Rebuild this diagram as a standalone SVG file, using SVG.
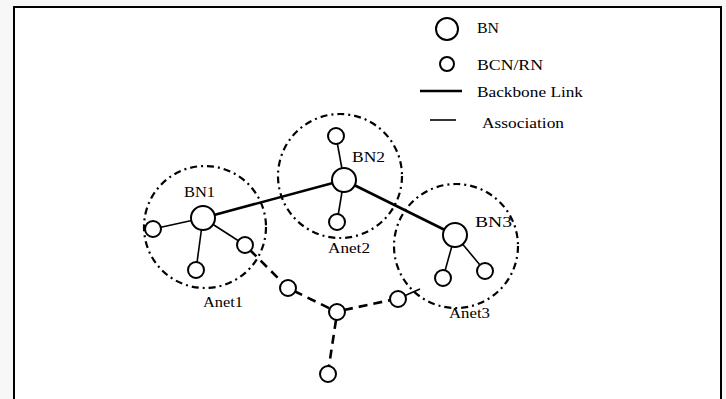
<svg xmlns="http://www.w3.org/2000/svg" width="726" height="399" viewBox="0 0 726 399">
<style>
.t{font-family:"Liberation Serif","Times New Roman",serif;fill:#000}
.lg{font-size:14px}
.lb{font-size:15px}
.node{fill:#fff;stroke:#000;stroke-width:2}
.net{fill:none;stroke:#000;stroke-width:2.2;stroke-dasharray:7 4 2 4}
.bb{stroke:#000;stroke-width:2.6;fill:none}
.as{stroke:#000;stroke-width:1.6;fill:none}
.dash{stroke:#000;stroke-width:2.6;fill:none;stroke-dasharray:9 6}
</style>
<rect x="0" y="0" width="726" height="399" fill="#f7f7f7"/>
<rect x="14" y="7" width="707" height="400" fill="#fff" stroke="#000" stroke-width="2"/>

<g id="legend">
  <circle class="node" cx="447" cy="29" r="11"/>
  <text class="t lg" x="477" y="33" textLength="22" lengthAdjust="spacingAndGlyphs">BN</text>
  <circle class="node" cx="447" cy="64" r="7"/>
  <text class="t lg" x="477" y="70" textLength="66" lengthAdjust="spacingAndGlyphs">BCN/RN</text>
  <line class="bb" x1="420" y1="91" x2="462" y2="91"/>
  <text class="t lg" x="477" y="97" textLength="106" lengthAdjust="spacingAndGlyphs">Backbone Link</text>
  <line class="as" x1="430" y1="120" x2="456" y2="120" stroke-width="1.2"/>
  <text class="t lg" x="482" y="128" textLength="82" lengthAdjust="spacingAndGlyphs">Association</text>
</g>

<g id="anet1">
  <circle class="net" cx="205" cy="227" r="61"/>
  <text class="t lb" x="203" y="307" textLength="40" lengthAdjust="spacingAndGlyphs">Anet1</text>
</g>
<g id="anet2">
  <circle class="net" cx="340" cy="176" r="62"/>
  <text class="t lb" x="328" y="253" textLength="42" lengthAdjust="spacingAndGlyphs">Anet2</text>
</g>
<g id="anet3">
  <circle class="net" cx="456" cy="246" r="62"/>
  <text class="t lb" x="449" y="318" textLength="41" lengthAdjust="spacingAndGlyphs">Anet3</text>
</g>

<g id="connectors">
  <line class="bb" x1="203" y1="218" x2="344" y2="180"/>
  <line class="bb" x1="344" y1="180" x2="455" y2="235"/>
  <line class="as" x1="203" y1="218" x2="153" y2="229"/>
  <line class="as" x1="203" y1="218" x2="196" y2="270"/>
  <line class="as" x1="203" y1="218" x2="245" y2="245"/>
  <line class="as" x1="344" y1="180" x2="336" y2="136"/>
  <line class="as" x1="344" y1="180" x2="337" y2="222"/>
  <line class="as" x1="455" y1="235" x2="443" y2="278"/>
  <line class="as" x1="455" y1="235" x2="485" y2="271"/>
  <line class="dash" x1="250" y1="250" x2="283" y2="283"/>
  <line class="dash" x1="294" y1="291" x2="331" y2="309"/>
  <line class="dash" x1="344" y1="310" x2="391" y2="300"/>
  <line class="as" x1="404" y1="296" x2="420" y2="289" stroke-width="2.2"/>
  <line class="dash" x1="336" y1="320" x2="329" y2="366"/>
</g>

<g id="BN1">
  <circle class="node" cx="203" cy="218" r="12"/>
  <text class="t lb" x="184" y="197" textLength="31" lengthAdjust="spacingAndGlyphs">BN1</text>
</g>
<g id="BN2">
  <circle class="node" cx="344" cy="180" r="12"/>
  <text class="t lb" x="352" y="162" textLength="33" lengthAdjust="spacingAndGlyphs">BN2</text>
</g>
<g id="BN3">
  <circle class="node" cx="455" cy="235" r="12"/>
  <text class="t lb" x="475" y="227" textLength="37" lengthAdjust="spacingAndGlyphs">BN3</text>
</g>
<g id="n1a"><circle class="node" cx="153" cy="229" r="8"/></g>
<g id="n1b"><circle class="node" cx="196" cy="270" r="8"/></g>
<g id="n1c"><circle class="node" cx="245" cy="245" r="8"/></g>
<g id="n2a"><circle class="node" cx="336" cy="136" r="8"/></g>
<g id="n2b"><circle class="node" cx="337" cy="222" r="8"/></g>
<g id="n3a"><circle class="node" cx="443" cy="278" r="8"/></g>
<g id="n3b"><circle class="node" cx="485" cy="271" r="8"/></g>
<g id="p1"><circle class="node" cx="288" cy="288" r="8"/></g>
<g id="p2"><circle class="node" cx="337" cy="312" r="8"/></g>
<g id="p3"><circle class="node" cx="398" cy="299" r="8"/></g>
<g id="p4"><circle class="node" cx="328" cy="374" r="8"/></g>
</svg>
